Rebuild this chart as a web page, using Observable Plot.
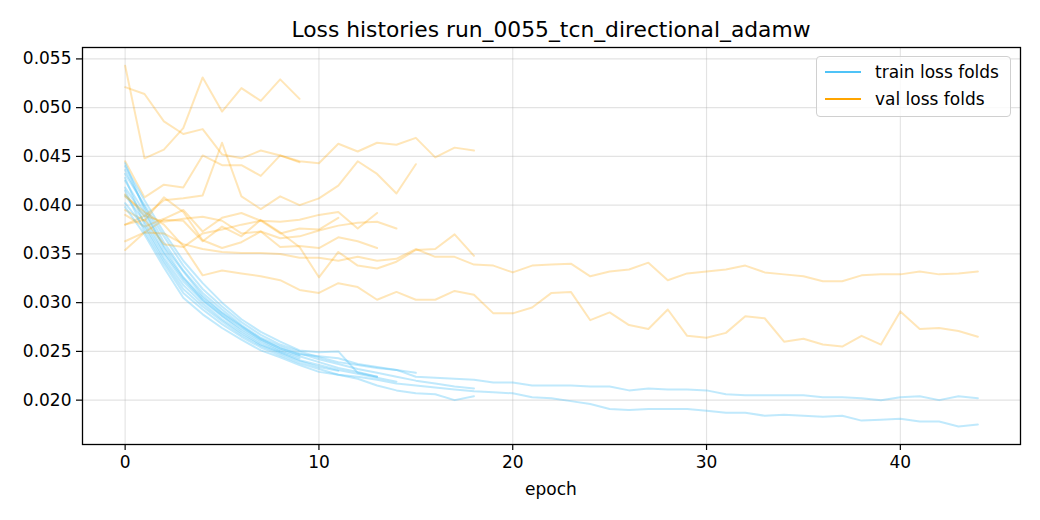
<!DOCTYPE html>
<html>
<head>
<meta charset="utf-8">
<script src="https://cdn.jsdelivr.net/npm/d3@7"></script>
<script src="https://cdn.jsdelivr.net/npm/@observablehq/plot@0.6"></script>
<style>
  html, body { margin: 0; padding: 0; background: white; }
  #wrap { position: relative; width: 1040px; height: 520px; font-family: "DejaVu Sans", sans-serif; color: black; }
  #title { position: absolute; left: 82px; width: 938px; top: 17px; text-align: center; font-size: 21.8px; line-height: 25px; white-space: nowrap; }
  #xlabel { position: absolute; left: 82px; width: 938px; top: 479px; text-align: center; font-size: 17px; line-height: 20px; }
  #legend { position: absolute; left: 816px; top: 56px; width: 193px; height: 59px; border: 1px solid #d0d0d0; border-radius: 4px; background: rgba(255,255,255,0.8); font-size: 17px; }
  .item { position: absolute; left: 0; height: 20px; line-height: 20px; white-space: nowrap; }
  .swatch { position: absolute; left: 8px; top: 9px; width: 36px; height: 0; border-top: 2.5px solid; }
  .lab { position: absolute; left: 58px; top: 0; }
</style>
</head>
<body>
<div id="wrap">
  <div id="chart"></div>
  <div id="title">Loss histories run_0055_tcn_directional_adamw</div>
  <div id="xlabel">epoch</div>
  <div id="legend">
    <div class="item" style="top:5px"><div class="swatch" style="border-color:#4fc3f7"></div><span class="lab">train loss folds</span></div>
    <div class="item" style="top:32px"><div class="swatch" style="border-color:#ffa500"></div><span class="lab">val loss folds</span></div>
  </div>
</div>
<script>
// ---- data ----
const epochTicks = [0, 10, 20, 30, 40];
const lossTicks = [0.020, 0.025, 0.030, 0.035, 0.040, 0.045, 0.050, 0.055];

const trainLossFolds = [
  [0.0425, 0.0392, 0.0358, 0.0332, 0.0307, 0.0290, 0.0276, 0.0263, 0.0253, 0.0246],
  [0.0410, 0.0383, 0.0350, 0.0322, 0.0302, 0.0286, 0.0271, 0.0259, 0.0250, 0.0243],
  [0.0436, 0.0398, 0.0362, 0.0333, 0.0310, 0.0293, 0.0277, 0.0264, 0.0255, 0.0248, 0.0242, 0.0237, 0.0232, 0.0228, 0.0224, 0.0220, 0.0217, 0.0214, 0.0212],
  [0.0432, 0.0400, 0.0368, 0.0338, 0.0314, 0.0296, 0.0280, 0.0267, 0.0257, 0.0250, 0.0244, 0.0239, 0.0236, 0.0233, 0.0231, 0.0228],
  [0.0440, 0.0405, 0.0372, 0.0343, 0.0320, 0.0300, 0.0283, 0.0270, 0.0260, 0.0251, 0.0249, 0.0250, 0.0228, 0.0224],
  [0.0428, 0.0380, 0.0346, 0.0318, 0.0299, 0.0283, 0.0269, 0.0257, 0.0249, 0.0241, 0.0236, 0.0231, 0.0227, 0.0223, 0.0219],
  [0.0418, 0.0388, 0.0352, 0.0325, 0.0303, 0.0287, 0.0273, 0.0261, 0.0251, 0.0245, 0.0239, 0.0233, 0.0229, 0.0224],
  [0.0415, 0.0373, 0.0340, 0.0310, 0.0293, 0.0278, 0.0265, 0.0254, 0.0246, 0.0238, 0.0232, 0.0226, 0.0222, 0.0215, 0.0210, 0.0207, 0.0206, 0.0200, 0.0204],
  [0.0443, 0.0395, 0.0356, 0.0326, 0.0305, 0.0289, 0.0275, 0.0262, 0.0253, 0.0247, 0.0245, 0.0243, 0.0237, 0.0234, 0.0231, 0.0224, 0.0223, 0.0222, 0.0221, 0.0218, 0.0218, 0.0215,
   0.0215, 0.0215, 0.0214, 0.0214, 0.0210, 0.0212, 0.0211, 0.0211, 0.0210, 0.0206, 0.0205, 0.0205, 0.0205, 0.0205, 0.0203, 0.0203, 0.0202, 0.0200, 0.0203, 0.0204, 0.0200, 0.0204, 0.0202],
  [0.0398, 0.0370, 0.0336, 0.0305, 0.0288, 0.0274, 0.0262, 0.0251, 0.0244, 0.0236, 0.0229, 0.0226, 0.0224, 0.0221, 0.0217, 0.0215, 0.0213, 0.0211, 0.0209, 0.0208, 0.0207, 0.0203,
   0.0202, 0.0199, 0.0196, 0.0191, 0.0190, 0.0191, 0.0191, 0.0191, 0.0189, 0.0187, 0.0187, 0.0184, 0.0185, 0.0184, 0.0183, 0.0184, 0.0179, 0.0180, 0.0181, 0.0178, 0.0178, 0.0173, 0.0175],
  [0.0402, 0.0377, 0.0343, 0.0314, 0.0296, 0.0281, 0.0267, 0.0256, 0.0248, 0.0240, 0.0234, 0.0230]
];

const valLossFolds = [
  [0.0543, 0.0448, 0.0457, 0.0479, 0.0531, 0.0496, 0.0520, 0.0507, 0.0529, 0.0509],
  [0.0521, 0.0514, 0.0486, 0.0473, 0.0478, 0.0452, 0.0448, 0.0456, 0.0451, 0.0444],
  [0.0445, 0.0408, 0.0421, 0.0418, 0.0451, 0.0441, 0.0441, 0.0430, 0.0451, 0.0445, 0.0443, 0.0463, 0.0455, 0.0464, 0.0462, 0.0469, 0.0449, 0.0459, 0.0456],
  [0.0411, 0.0389, 0.0405, 0.0407, 0.0410, 0.0464, 0.0409, 0.0396, 0.0409, 0.0400, 0.0407, 0.0420, 0.0445, 0.0432, 0.0412, 0.0442],
  [0.0390, 0.0378, 0.0386, 0.0395, 0.0373, 0.0387, 0.0392, 0.0384, 0.0383, 0.0385, 0.0390, 0.0393, 0.0376, 0.0392],
  [0.0380, 0.0389, 0.0383, 0.0386, 0.0388, 0.0384, 0.0371, 0.0373, 0.0366, 0.0368, 0.0374, 0.0379, 0.0382, 0.0383, 0.0376],
  [0.0395, 0.0384, 0.0408, 0.0393, 0.0364, 0.0356, 0.0362, 0.0373, 0.0357, 0.0358, 0.0356, 0.0367, 0.0363, 0.0356],
  [0.0363, 0.0372, 0.0385, 0.0384, 0.0363, 0.0378, 0.0368, 0.0385, 0.0372, 0.0357, 0.0326, 0.0352, 0.0338, 0.0335, 0.0342, 0.0354, 0.0355, 0.0370, 0.0348],
  [0.0354, 0.0372, 0.0371, 0.0360, 0.0355, 0.0352, 0.0351, 0.0351, 0.0350, 0.0346, 0.0346, 0.0343, 0.0347, 0.0343, 0.0345, 0.0355, 0.0347, 0.0347, 0.0339, 0.0338, 0.0331, 0.0338,
   0.0339, 0.0340, 0.0327, 0.0332, 0.0334, 0.0341, 0.0323, 0.0330, 0.0332, 0.0334, 0.0338, 0.0331, 0.0329, 0.0327, 0.0322, 0.0322, 0.0328, 0.0329, 0.0329, 0.0332, 0.0329, 0.0330, 0.0332],
  [0.0409, 0.0393, 0.0380, 0.0358, 0.0328, 0.0333, 0.0330, 0.0327, 0.0323, 0.0313, 0.0310, 0.0320, 0.0316, 0.0303, 0.0311, 0.0303, 0.0303, 0.0312, 0.0308, 0.0289, 0.0289, 0.0295,
   0.0310, 0.0311, 0.0282, 0.0290, 0.0277, 0.0273, 0.0293, 0.0266, 0.0264, 0.0269, 0.0286, 0.0284, 0.0260, 0.0263, 0.0257, 0.0255, 0.0266, 0.0257, 0.0291, 0.0273, 0.0274, 0.0271, 0.0265],
  [0.0380, 0.0385, 0.0360, 0.0357, 0.0371, 0.0375, 0.0380, 0.0384, 0.0371, 0.0376, 0.0375, 0.0387]
];

const trainColor = "#4fc3f7";
const valColor = "#ffa500";

// ---- build tidy rows ----
const toRows = (folds, kind) => folds.flatMap((arr, i) => arr.map((loss, epoch) => ({kind, fold: i, epoch, loss})));
const trainRows = toRows(trainLossFolds, "train");
const valRows = toRows(valLossFolds, "val");

const lineMarks = [];
const nFolds = Math.max(trainLossFolds.length, valLossFolds.length);
for (let i = 0; i < nFolds; i++) {
  lineMarks.push(Plot.line(trainRows.filter(d => d.fold === i), {x: "epoch", y: "loss", stroke: trainColor, strokeOpacity: 0.36, strokeWidth: 2}));
  lineMarks.push(Plot.line(valRows.filter(d => d.fold === i), {x: "epoch", y: "loss", stroke: valColor, strokeOpacity: 0.28, strokeWidth: 2}));
}

const chart = Plot.plot({
  width: 1040,
  height: 520,
  marginLeft: 82,
  marginRight: 20,
  marginTop: 47,
  marginBottom: 76,
  style: {fontFamily: "DejaVu Sans, sans-serif", fontSize: "17px", color: "black", background: "white"},
  x: {domain: [-2.2, 46.2]},
  y: {domain: [0.01545, 0.05617]},
  marks: [
    Plot.gridX(epochTicks, {stroke: "#b0b0b0", strokeOpacity: 0.35, strokeWidth: 1.1}),
    Plot.gridY(lossTicks, {stroke: "#b0b0b0", strokeOpacity: 0.35, strokeWidth: 1.1}),
    ...lineMarks,
    Plot.frame({stroke: "black", strokeWidth: 1.3}),
    Plot.axisX(epochTicks, {tickSize: 6, tickPadding: 5, label: null, tickFormat: d => String(d), strokeWidth: 1.2}),
    Plot.axisY(lossTicks, {tickSize: 6, tickPadding: 5, label: null, tickFormat: d => d.toFixed(3), strokeWidth: 1.2})
  ]
});
document.getElementById("chart").appendChild(chart);
</script>
</body>
</html>
